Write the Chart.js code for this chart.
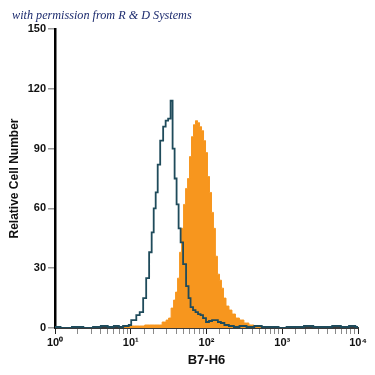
<!DOCTYPE html>
<html>
<head>
<meta charset="utf-8">
<script src="https://cdn.jsdelivr.net/npm/chart.js@4/dist/chart.umd.min.js"></script>
<style>
  html, body { margin: 0; padding: 0; background: #fff; }
  #wrap { position: relative; width: 375px; height: 375px; }
  #note { position: absolute; left: 12px; top: 8px; font: italic 12.2px "Liberation Serif", "DejaVu Serif", serif; color: #1c2b6e; white-space: nowrap; }
</style>
</head>
<body>
<div id="wrap">
  <canvas id="c" width="375" height="375"></canvas>
  <div id="note">with permission from R &amp; D Systems</div>
</div>
<script>
// Isotype control (open outline histogram)
const isotypeX = [1, 1.4, 2, 2.8, 3.6, 4.5, 5.5, 6.5, 7.5, 8.34, 9.13, 9.70, 10.6, 11.3, 12.4, 13.9, 15.3, 16.7, 18.3, 19.5, 20.7, 22.0, 23.4, 25.6, 28.0, 29.8, 32.6, 34.6, 36.8, 39.1, 41.5, 44.2, 46.9, 51.4, 56.2, 59.7, 63.5, 69.5, 73.8, 80.9, 86.0, 94.2, 103, 113, 124, 135, 148, 162, 183, 213, 248, 300, 380, 480, 600, 800, 1000, 1300, 1700, 2200, 3000, 4000, 5200, 6800, 8500, 10000];
const isotypeY = [0.5, 0, 0.5, 0, 0.5, 1, 0.5, 1, 0.5, 1, 1, 1.5, 4, 4, 6.5, 8, 15, 25, 38, 48, 60, 68, 82, 94, 101, 104, 105, 114, 90, 75, 62, 50, 43, 32, 21, 15, 10.5, 9, 8, 7, 6.5, 5, 3, 3.5, 4, 4, 3, 2.5, 1.5, 1, 0.5, 1, 0.5, 1, 0.5, 0.5, 0, 0.5, 0.5, 1, 0.5, 0.5, 1, 0.5, 1, 0.5];
// B7-H6 stained cells (filled orange histogram)
const b7h6X = [7.2, 9.70, 13.1, 17.8, 24.1, 28.0, 30.7, 32.6, 35.7, 37.9, 40.3, 42.8, 45.5, 48.3, 51.4, 54.6, 58.0, 61.5, 65.4, 69.5, 73.8, 78.5, 83.4, 88.6, 94.2, 100, 106, 113, 120, 127, 135, 144, 153, 162, 173, 189, 207, 227, 256, 289, 336, 391, 455, 530, 600];
const b7h6Y = [0, 1, 1, 1.5, 1.5, 3, 4, 5, 10, 14, 18, 25, 38, 50, 62, 70, 75, 86, 96, 102, 104, 103, 101, 99, 94, 88, 76, 68, 58, 50, 36, 27, 24, 20, 15, 11, 9, 7, 5, 4, 2.5, 1.5, 1, 0.5, 0];
// Axis tick labels
const xTickLabels = ['10\u2070', '10\u00B9', '10\u00B2', '10\u00B3', '10\u2074'];
const yTicks = [0, 30, 60, 90, 120, 150];

const toPts = (xs, ys) => xs.map((x, i) => ({ x: x, y: ys[i] }));

const labelFont = { family: '"Liberation Sans", Arial, sans-serif', size: 11, weight: 'bold' };

new Chart(document.getElementById('c'), {
  type: 'line',
  data: {
    datasets: [
      {
        label: 'Isotype control',
        data: toPts(isotypeX, isotypeY),
        borderColor: '#1f4b5b',
        borderWidth: 1.8,
        fill: false,
        pointRadius: 0,
        stepped: 'middle'
      },
      {
        label: 'B7-H6',
        data: toPts(b7h6X, b7h6Y),
        borderColor: '#f7961e',
        backgroundColor: '#f7961e',
        borderWidth: 1,
        fill: 'origin',
        pointRadius: 0,
        stepped: 'middle'
      }
    ]
  },
  options: {
    responsive: false,
    animation: false,
    devicePixelRatio: 1,
    layout: { padding: { left: 0, right: 17, top: 29, bottom: 0 } },
    plugins: { legend: { display: false }, tooltip: { enabled: false } },
    scales: {
      x: {
        type: 'logarithmic',
        min: 1,
        max: 10000,
        afterFit: (s) => { s.height = 47; },
        border: { display: true, color: '#3a3a3a', width: 2 },
        grid: {
          drawOnChartArea: false,
          drawTicks: true,
          tickLength: 6,
          color: (ctx) => {
            const v = ctx.tick ? ctx.tick.value : 0;
            const r = Math.round(Math.log10(v));
            return Math.abs(Math.pow(10, r) - v) < 1e-6 ? '#222' : '#8a8a8a';
          },
          lineWidth: 1
        },
        ticks: {
          autoSkip: false,
          maxRotation: 0,
          padding: 2,
          color: '#111',
          font: labelFont,
          callback: (v) => {
            const r = Math.round(Math.log10(v));
            return Math.abs(Math.pow(10, r) - v) < 1e-6 ? xTickLabels[r] : '';
          }
        },
        title: {
          display: true,
          text: 'B7-H6',
          color: '#111',
          font: { family: '"Liberation Sans", Arial, sans-serif', size: 13, weight: 'bold' },
          padding: { top: 0, bottom: 7 }
        }
      },
      y: {
        type: 'linear',
        min: 0,
        max: 150,
        afterFit: (s) => { s.width = 55; },
        afterBuildTicks: (s) => { s.ticks = yTicks.map(v => ({ value: v })); },
        border: { display: true, color: '#000', width: 2.5 },
        grid: {
          drawOnChartArea: false,
          drawTicks: true,
          tickLength: 7,
          color: '#9a9a9a',
          lineWidth: 1.5
        },
        ticks: {
          padding: 2,
          color: '#111',
          font: labelFont
        },
        title: {
          display: true,
          text: 'Relative Cell Number',
          color: '#111',
          font: { family: '"Liberation Sans", Arial, sans-serif', size: 12, weight: 'bold' },
          padding: { top: 7, bottom: 0 }
        }
      }
    }
  }
});
</script>
</body>
</html>
